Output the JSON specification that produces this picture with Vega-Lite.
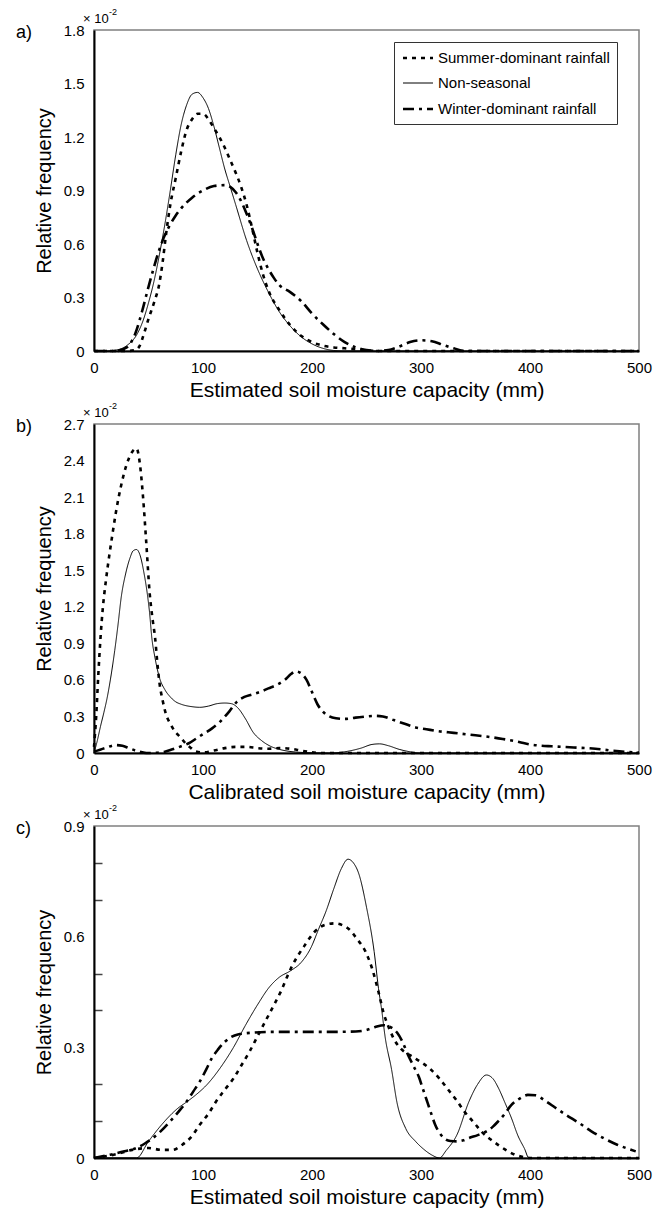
{
  "$schema": "https://vega.github.io/schema/vega-lite/v6.json",
  "background": "white",
  "padding": {"left": 15, "top": 7, "right": 5, "bottom": 5},
  "bounds": "flush",
  "spacing": 73,
  "datasets": {
    "a": [
      {"x":0,"f":0,"s":"Non-seasonal"},{"x":10,"f":0,"s":"Non-seasonal"},{"x":20,"f":0.005,"s":"Non-seasonal"},{"x":30,"f":0.03,"s":"Non-seasonal"},{"x":40,"f":0.1,"s":"Non-seasonal"},{"x":45,"f":0.17,"s":"Non-seasonal"},{"x":50,"f":0.27,"s":"Non-seasonal"},{"x":55,"f":0.39,"s":"Non-seasonal"},{"x":60,"f":0.54,"s":"Non-seasonal"},{"x":65,"f":0.71,"s":"Non-seasonal"},{"x":70,"f":0.9,"s":"Non-seasonal"},{"x":75,"f":1.1,"s":"Non-seasonal"},{"x":80,"f":1.27,"s":"Non-seasonal"},{"x":85,"f":1.38,"s":"Non-seasonal"},{"x":90,"f":1.44,"s":"Non-seasonal"},{"x":95,"f":1.45,"s":"Non-seasonal"},{"x":100,"f":1.42,"s":"Non-seasonal"},{"x":105,"f":1.36,"s":"Non-seasonal"},{"x":110,"f":1.26,"s":"Non-seasonal"},{"x":115,"f":1.14,"s":"Non-seasonal"},{"x":120,"f":1.02,"s":"Non-seasonal"},{"x":125,"f":0.92,"s":"Non-seasonal"},{"x":130,"f":0.82,"s":"Non-seasonal"},{"x":140,"f":0.62,"s":"Non-seasonal"},{"x":150,"f":0.46,"s":"Non-seasonal"},{"x":160,"f":0.33,"s":"Non-seasonal"},{"x":170,"f":0.22,"s":"Non-seasonal"},{"x":180,"f":0.14,"s":"Non-seasonal"},{"x":190,"f":0.08,"s":"Non-seasonal"},{"x":200,"f":0.04,"s":"Non-seasonal"},{"x":210,"f":0.015,"s":"Non-seasonal"},{"x":220,"f":0.003,"s":"Non-seasonal"},{"x":230,"f":0,"s":"Non-seasonal"},{"x":300,"f":0,"s":"Non-seasonal"},{"x":400,"f":0,"s":"Non-seasonal"},{"x":500,"f":0,"s":"Non-seasonal"},
      {"x":0,"f":0,"s":"Summer-dominant rainfall"},{"x":30,"f":0,"s":"Summer-dominant rainfall"},{"x":38,"f":0.005,"s":"Summer-dominant rainfall"},{"x":42,"f":0.03,"s":"Summer-dominant rainfall"},{"x":46,"f":0.1,"s":"Summer-dominant rainfall"},{"x":50,"f":0.18,"s":"Summer-dominant rainfall"},{"x":55,"f":0.27,"s":"Summer-dominant rainfall"},{"x":60,"f":0.38,"s":"Summer-dominant rainfall"},{"x":63,"f":0.5,"s":"Summer-dominant rainfall"},{"x":66,"f":0.65,"s":"Summer-dominant rainfall"},{"x":70,"f":0.82,"s":"Summer-dominant rainfall"},{"x":75,"f":0.97,"s":"Summer-dominant rainfall"},{"x":80,"f":1.12,"s":"Summer-dominant rainfall"},{"x":85,"f":1.24,"s":"Summer-dominant rainfall"},{"x":90,"f":1.3,"s":"Summer-dominant rainfall"},{"x":95,"f":1.33,"s":"Summer-dominant rainfall"},{"x":100,"f":1.33,"s":"Summer-dominant rainfall"},{"x":105,"f":1.3,"s":"Summer-dominant rainfall"},{"x":110,"f":1.25,"s":"Summer-dominant rainfall"},{"x":115,"f":1.2,"s":"Summer-dominant rainfall"},{"x":120,"f":1.14,"s":"Summer-dominant rainfall"},{"x":125,"f":1.07,"s":"Summer-dominant rainfall"},{"x":130,"f":1.0,"s":"Summer-dominant rainfall"},{"x":135,"f":0.92,"s":"Summer-dominant rainfall"},{"x":140,"f":0.82,"s":"Summer-dominant rainfall"},{"x":145,"f":0.69,"s":"Summer-dominant rainfall"},{"x":150,"f":0.55,"s":"Summer-dominant rainfall"},{"x":155,"f":0.43,"s":"Summer-dominant rainfall"},{"x":160,"f":0.34,"s":"Summer-dominant rainfall"},{"x":170,"f":0.23,"s":"Summer-dominant rainfall"},{"x":180,"f":0.145,"s":"Summer-dominant rainfall"},{"x":190,"f":0.085,"s":"Summer-dominant rainfall"},{"x":200,"f":0.05,"s":"Summer-dominant rainfall"},{"x":210,"f":0.03,"s":"Summer-dominant rainfall"},{"x":220,"f":0.02,"s":"Summer-dominant rainfall"},{"x":230,"f":0.015,"s":"Summer-dominant rainfall"},{"x":240,"f":0.01,"s":"Summer-dominant rainfall"},{"x":250,"f":0.005,"s":"Summer-dominant rainfall"},{"x":260,"f":0,"s":"Summer-dominant rainfall"},{"x":300,"f":0,"s":"Summer-dominant rainfall"},{"x":400,"f":0,"s":"Summer-dominant rainfall"},{"x":500,"f":0,"s":"Summer-dominant rainfall"},
      {"x":0,"f":0,"s":"Winter-dominant rainfall"},{"x":20,"f":0,"s":"Winter-dominant rainfall"},{"x":30,"f":0.02,"s":"Winter-dominant rainfall"},{"x":38,"f":0.1,"s":"Winter-dominant rainfall"},{"x":44,"f":0.22,"s":"Winter-dominant rainfall"},{"x":50,"f":0.36,"s":"Winter-dominant rainfall"},{"x":55,"f":0.47,"s":"Winter-dominant rainfall"},{"x":60,"f":0.57,"s":"Winter-dominant rainfall"},{"x":65,"f":0.65,"s":"Winter-dominant rainfall"},{"x":70,"f":0.71,"s":"Winter-dominant rainfall"},{"x":75,"f":0.76,"s":"Winter-dominant rainfall"},{"x":80,"f":0.8,"s":"Winter-dominant rainfall"},{"x":90,"f":0.86,"s":"Winter-dominant rainfall"},{"x":100,"f":0.9,"s":"Winter-dominant rainfall"},{"x":110,"f":0.925,"s":"Winter-dominant rainfall"},{"x":120,"f":0.93,"s":"Winter-dominant rainfall"},{"x":125,"f":0.92,"s":"Winter-dominant rainfall"},{"x":130,"f":0.89,"s":"Winter-dominant rainfall"},{"x":135,"f":0.84,"s":"Winter-dominant rainfall"},{"x":140,"f":0.77,"s":"Winter-dominant rainfall"},{"x":145,"f":0.69,"s":"Winter-dominant rainfall"},{"x":150,"f":0.6,"s":"Winter-dominant rainfall"},{"x":155,"f":0.52,"s":"Winter-dominant rainfall"},{"x":160,"f":0.46,"s":"Winter-dominant rainfall"},{"x":165,"f":0.41,"s":"Winter-dominant rainfall"},{"x":170,"f":0.37,"s":"Winter-dominant rainfall"},{"x":180,"f":0.33,"s":"Winter-dominant rainfall"},{"x":190,"f":0.28,"s":"Winter-dominant rainfall"},{"x":200,"f":0.21,"s":"Winter-dominant rainfall"},{"x":210,"f":0.15,"s":"Winter-dominant rainfall"},{"x":220,"f":0.095,"s":"Winter-dominant rainfall"},{"x":230,"f":0.05,"s":"Winter-dominant rainfall"},{"x":240,"f":0.02,"s":"Winter-dominant rainfall"},{"x":250,"f":0.005,"s":"Winter-dominant rainfall"},{"x":260,"f":0,"s":"Winter-dominant rainfall"},{"x":270,"f":0.005,"s":"Winter-dominant rainfall"},{"x":280,"f":0.025,"s":"Winter-dominant rainfall"},{"x":290,"f":0.05,"s":"Winter-dominant rainfall"},{"x":300,"f":0.06,"s":"Winter-dominant rainfall"},{"x":310,"f":0.055,"s":"Winter-dominant rainfall"},{"x":320,"f":0.035,"s":"Winter-dominant rainfall"},{"x":330,"f":0.015,"s":"Winter-dominant rainfall"},{"x":340,"f":0,"s":"Winter-dominant rainfall"},{"x":400,"f":0,"s":"Winter-dominant rainfall"},{"x":500,"f":0,"s":"Winter-dominant rainfall"}
    ],
    "b": [
      {"x":0,"f":0,"s":"Non-seasonal"},{"x":3,"f":0.1,"s":"Non-seasonal"},{"x":6,"f":0.22,"s":"Non-seasonal"},{"x":9,"f":0.33,"s":"Non-seasonal"},{"x":12,"f":0.45,"s":"Non-seasonal"},{"x":15,"f":0.6,"s":"Non-seasonal"},{"x":19,"f":0.84,"s":"Non-seasonal"},{"x":22,"f":1.05,"s":"Non-seasonal"},{"x":25,"f":1.28,"s":"Non-seasonal"},{"x":29,"f":1.47,"s":"Non-seasonal"},{"x":33,"f":1.6,"s":"Non-seasonal"},{"x":36,"f":1.66,"s":"Non-seasonal"},{"x":39,"f":1.67,"s":"Non-seasonal"},{"x":42,"f":1.63,"s":"Non-seasonal"},{"x":46,"f":1.47,"s":"Non-seasonal"},{"x":49,"f":1.3,"s":"Non-seasonal"},{"x":51,"f":1.15,"s":"Non-seasonal"},{"x":53,"f":0.95,"s":"Non-seasonal"},{"x":56,"f":0.78,"s":"Non-seasonal"},{"x":60,"f":0.62,"s":"Non-seasonal"},{"x":65,"f":0.52,"s":"Non-seasonal"},{"x":70,"f":0.46,"s":"Non-seasonal"},{"x":75,"f":0.42,"s":"Non-seasonal"},{"x":80,"f":0.4,"s":"Non-seasonal"},{"x":90,"f":0.38,"s":"Non-seasonal"},{"x":97,"f":0.375,"s":"Non-seasonal"},{"x":105,"f":0.385,"s":"Non-seasonal"},{"x":113,"f":0.405,"s":"Non-seasonal"},{"x":120,"f":0.41,"s":"Non-seasonal"},{"x":126,"f":0.405,"s":"Non-seasonal"},{"x":132,"f":0.37,"s":"Non-seasonal"},{"x":139,"f":0.28,"s":"Non-seasonal"},{"x":146,"f":0.17,"s":"Non-seasonal"},{"x":154,"f":0.1,"s":"Non-seasonal"},{"x":162,"f":0.055,"s":"Non-seasonal"},{"x":170,"f":0.03,"s":"Non-seasonal"},{"x":185,"f":0.008,"s":"Non-seasonal"},{"x":200,"f":0.002,"s":"Non-seasonal"},{"x":215,"f":0,"s":"Non-seasonal"},{"x":230,"f":0.01,"s":"Non-seasonal"},{"x":245,"f":0.04,"s":"Non-seasonal"},{"x":255,"f":0.07,"s":"Non-seasonal"},{"x":262,"f":0.075,"s":"Non-seasonal"},{"x":270,"f":0.06,"s":"Non-seasonal"},{"x":280,"f":0.03,"s":"Non-seasonal"},{"x":290,"f":0.01,"s":"Non-seasonal"},{"x":300,"f":0,"s":"Non-seasonal"},{"x":400,"f":0,"s":"Non-seasonal"},{"x":500,"f":0,"s":"Non-seasonal"},
      {"x":0,"f":0.05,"s":"Summer-dominant rainfall"},{"x":2,"f":0.3,"s":"Summer-dominant rainfall"},{"x":4,"f":0.65,"s":"Summer-dominant rainfall"},{"x":6,"f":0.95,"s":"Summer-dominant rainfall"},{"x":8,"f":1.18,"s":"Summer-dominant rainfall"},{"x":11,"f":1.42,"s":"Summer-dominant rainfall"},{"x":14,"f":1.62,"s":"Summer-dominant rainfall"},{"x":17,"f":1.8,"s":"Summer-dominant rainfall"},{"x":20,"f":1.97,"s":"Summer-dominant rainfall"},{"x":25,"f":2.2,"s":"Summer-dominant rainfall"},{"x":30,"f":2.37,"s":"Summer-dominant rainfall"},{"x":35,"f":2.47,"s":"Summer-dominant rainfall"},{"x":39,"f":2.5,"s":"Summer-dominant rainfall"},{"x":42,"f":2.38,"s":"Summer-dominant rainfall"},{"x":45,"f":2.1,"s":"Summer-dominant rainfall"},{"x":48,"f":1.72,"s":"Summer-dominant rainfall"},{"x":51,"f":1.32,"s":"Summer-dominant rainfall"},{"x":54,"f":1.08,"s":"Summer-dominant rainfall"},{"x":56,"f":0.95,"s":"Summer-dominant rainfall"},{"x":58,"f":0.75,"s":"Summer-dominant rainfall"},{"x":60,"f":0.58,"s":"Summer-dominant rainfall"},{"x":63,"f":0.43,"s":"Summer-dominant rainfall"},{"x":66,"f":0.32,"s":"Summer-dominant rainfall"},{"x":70,"f":0.24,"s":"Summer-dominant rainfall"},{"x":74,"f":0.18,"s":"Summer-dominant rainfall"},{"x":77,"f":0.15,"s":"Summer-dominant rainfall"},{"x":81,"f":0.11,"s":"Summer-dominant rainfall"},{"x":85,"f":0.07,"s":"Summer-dominant rainfall"},{"x":89,"f":0.04,"s":"Summer-dominant rainfall"},{"x":93,"f":0.014,"s":"Summer-dominant rainfall"},{"x":100,"f":0.005,"s":"Summer-dominant rainfall"},{"x":110,"f":0.02,"s":"Summer-dominant rainfall"},{"x":120,"f":0.04,"s":"Summer-dominant rainfall"},{"x":130,"f":0.05,"s":"Summer-dominant rainfall"},{"x":140,"f":0.05,"s":"Summer-dominant rainfall"},{"x":150,"f":0.04,"s":"Summer-dominant rainfall"},{"x":160,"f":0.035,"s":"Summer-dominant rainfall"},{"x":170,"f":0.04,"s":"Summer-dominant rainfall"},{"x":180,"f":0.035,"s":"Summer-dominant rainfall"},{"x":190,"f":0.02,"s":"Summer-dominant rainfall"},{"x":200,"f":0.005,"s":"Summer-dominant rainfall"},{"x":210,"f":0,"s":"Summer-dominant rainfall"},{"x":300,"f":0,"s":"Summer-dominant rainfall"},{"x":400,"f":0,"s":"Summer-dominant rainfall"},{"x":500,"f":0,"s":"Summer-dominant rainfall"},
      {"x":0,"f":0.01,"s":"Winter-dominant rainfall"},{"x":10,"f":0.04,"s":"Winter-dominant rainfall"},{"x":20,"f":0.065,"s":"Winter-dominant rainfall"},{"x":26,"f":0.06,"s":"Winter-dominant rainfall"},{"x":32,"f":0.04,"s":"Winter-dominant rainfall"},{"x":40,"f":0.015,"s":"Winter-dominant rainfall"},{"x":48,"f":0,"s":"Winter-dominant rainfall"},{"x":58,"f":0.002,"s":"Winter-dominant rainfall"},{"x":65,"f":0.01,"s":"Winter-dominant rainfall"},{"x":72,"f":0.03,"s":"Winter-dominant rainfall"},{"x":80,"f":0.055,"s":"Winter-dominant rainfall"},{"x":87,"f":0.08,"s":"Winter-dominant rainfall"},{"x":94,"f":0.12,"s":"Winter-dominant rainfall"},{"x":100,"f":0.155,"s":"Winter-dominant rainfall"},{"x":108,"f":0.2,"s":"Winter-dominant rainfall"},{"x":116,"f":0.26,"s":"Winter-dominant rainfall"},{"x":124,"f":0.34,"s":"Winter-dominant rainfall"},{"x":131,"f":0.42,"s":"Winter-dominant rainfall"},{"x":138,"f":0.46,"s":"Winter-dominant rainfall"},{"x":145,"f":0.48,"s":"Winter-dominant rainfall"},{"x":152,"f":0.5,"s":"Winter-dominant rainfall"},{"x":160,"f":0.53,"s":"Winter-dominant rainfall"},{"x":168,"f":0.56,"s":"Winter-dominant rainfall"},{"x":175,"f":0.6,"s":"Winter-dominant rainfall"},{"x":181,"f":0.65,"s":"Winter-dominant rainfall"},{"x":185,"f":0.67,"s":"Winter-dominant rainfall"},{"x":189,"f":0.66,"s":"Winter-dominant rainfall"},{"x":195,"f":0.6,"s":"Winter-dominant rainfall"},{"x":200,"f":0.5,"s":"Winter-dominant rainfall"},{"x":205,"f":0.4,"s":"Winter-dominant rainfall"},{"x":210,"f":0.34,"s":"Winter-dominant rainfall"},{"x":216,"f":0.3,"s":"Winter-dominant rainfall"},{"x":222,"f":0.285,"s":"Winter-dominant rainfall"},{"x":230,"f":0.28,"s":"Winter-dominant rainfall"},{"x":240,"f":0.29,"s":"Winter-dominant rainfall"},{"x":250,"f":0.3,"s":"Winter-dominant rainfall"},{"x":258,"f":0.305,"s":"Winter-dominant rainfall"},{"x":265,"f":0.3,"s":"Winter-dominant rainfall"},{"x":275,"f":0.27,"s":"Winter-dominant rainfall"},{"x":285,"f":0.24,"s":"Winter-dominant rainfall"},{"x":295,"f":0.21,"s":"Winter-dominant rainfall"},{"x":305,"f":0.195,"s":"Winter-dominant rainfall"},{"x":315,"f":0.18,"s":"Winter-dominant rainfall"},{"x":330,"f":0.165,"s":"Winter-dominant rainfall"},{"x":345,"f":0.15,"s":"Winter-dominant rainfall"},{"x":360,"f":0.135,"s":"Winter-dominant rainfall"},{"x":375,"f":0.115,"s":"Winter-dominant rainfall"},{"x":390,"f":0.09,"s":"Winter-dominant rainfall"},{"x":400,"f":0.07,"s":"Winter-dominant rainfall"},{"x":410,"f":0.06,"s":"Winter-dominant rainfall"},{"x":420,"f":0.055,"s":"Winter-dominant rainfall"},{"x":440,"f":0.045,"s":"Winter-dominant rainfall"},{"x":460,"f":0.035,"s":"Winter-dominant rainfall"},{"x":475,"f":0.02,"s":"Winter-dominant rainfall"},{"x":490,"f":0.008,"s":"Winter-dominant rainfall"},{"x":500,"f":0.003,"s":"Winter-dominant rainfall"}
    ],
    "c": [
      {"x":0,"f":0,"s":"Non-seasonal"},{"x":39,"f":0,"s":"Non-seasonal"},{"x":50,"f":0.045,"s":"Non-seasonal"},{"x":62,"f":0.09,"s":"Non-seasonal"},{"x":77,"f":0.135,"s":"Non-seasonal"},{"x":85,"f":0.152,"s":"Non-seasonal"},{"x":93,"f":0.17,"s":"Non-seasonal"},{"x":104,"f":0.2,"s":"Non-seasonal"},{"x":116,"f":0.245,"s":"Non-seasonal"},{"x":128,"f":0.3,"s":"Non-seasonal"},{"x":139,"f":0.36,"s":"Non-seasonal"},{"x":151,"f":0.42,"s":"Non-seasonal"},{"x":160,"f":0.46,"s":"Non-seasonal"},{"x":170,"f":0.49,"s":"Non-seasonal"},{"x":180,"f":0.507,"s":"Non-seasonal"},{"x":190,"f":0.53,"s":"Non-seasonal"},{"x":199,"f":0.57,"s":"Non-seasonal"},{"x":206,"f":0.62,"s":"Non-seasonal"},{"x":213,"f":0.67,"s":"Non-seasonal"},{"x":220,"f":0.73,"s":"Non-seasonal"},{"x":227,"f":0.785,"s":"Non-seasonal"},{"x":233,"f":0.81,"s":"Non-seasonal"},{"x":238,"f":0.8,"s":"Non-seasonal"},{"x":243,"f":0.77,"s":"Non-seasonal"},{"x":250,"f":0.68,"s":"Non-seasonal"},{"x":257,"f":0.56,"s":"Non-seasonal"},{"x":261,"f":0.46,"s":"Non-seasonal"},{"x":264,"f":0.4,"s":"Non-seasonal"},{"x":267,"f":0.33,"s":"Non-seasonal"},{"x":273,"f":0.24,"s":"Non-seasonal"},{"x":278,"f":0.15,"s":"Non-seasonal"},{"x":286,"f":0.08,"s":"Non-seasonal"},{"x":295,"f":0.045,"s":"Non-seasonal"},{"x":302,"f":0.025,"s":"Non-seasonal"},{"x":310,"f":0.008,"s":"Non-seasonal"},{"x":317,"f":0,"s":"Non-seasonal"},{"x":323,"f":0.02,"s":"Non-seasonal"},{"x":333,"f":0.063,"s":"Non-seasonal"},{"x":344,"f":0.153,"s":"Non-seasonal"},{"x":352,"f":0.2,"s":"Non-seasonal"},{"x":360,"f":0.225,"s":"Non-seasonal"},{"x":366,"f":0.215,"s":"Non-seasonal"},{"x":371,"f":0.19,"s":"Non-seasonal"},{"x":377,"f":0.15,"s":"Non-seasonal"},{"x":383,"f":0.108,"s":"Non-seasonal"},{"x":389,"f":0.06,"s":"Non-seasonal"},{"x":395,"f":0.025,"s":"Non-seasonal"},{"x":399,"f":0,"s":"Non-seasonal"},{"x":450,"f":0,"s":"Non-seasonal"},{"x":500,"f":0,"s":"Non-seasonal"},
      {"x":0,"f":0,"s":"Summer-dominant rainfall"},{"x":20,"f":0.01,"s":"Summer-dominant rainfall"},{"x":35,"f":0.022,"s":"Summer-dominant rainfall"},{"x":50,"f":0.027,"s":"Summer-dominant rainfall"},{"x":62,"f":0.022,"s":"Summer-dominant rainfall"},{"x":72,"f":0.022,"s":"Summer-dominant rainfall"},{"x":81,"f":0.036,"s":"Summer-dominant rainfall"},{"x":90,"f":0.06,"s":"Summer-dominant rainfall"},{"x":97,"f":0.09,"s":"Summer-dominant rainfall"},{"x":105,"f":0.12,"s":"Summer-dominant rainfall"},{"x":112,"f":0.153,"s":"Summer-dominant rainfall"},{"x":120,"f":0.185,"s":"Summer-dominant rainfall"},{"x":128,"f":0.216,"s":"Summer-dominant rainfall"},{"x":135,"f":0.25,"s":"Summer-dominant rainfall"},{"x":143,"f":0.29,"s":"Summer-dominant rainfall"},{"x":150,"f":0.33,"s":"Summer-dominant rainfall"},{"x":158,"f":0.375,"s":"Summer-dominant rainfall"},{"x":166,"f":0.42,"s":"Summer-dominant rainfall"},{"x":172,"f":0.455,"s":"Summer-dominant rainfall"},{"x":177,"f":0.49,"s":"Summer-dominant rainfall"},{"x":182,"f":0.522,"s":"Summer-dominant rainfall"},{"x":187,"f":0.548,"s":"Summer-dominant rainfall"},{"x":193,"f":0.575,"s":"Summer-dominant rainfall"},{"x":202,"f":0.612,"s":"Summer-dominant rainfall"},{"x":212,"f":0.632,"s":"Summer-dominant rainfall"},{"x":221,"f":0.636,"s":"Summer-dominant rainfall"},{"x":228,"f":0.631,"s":"Summer-dominant rainfall"},{"x":234,"f":0.62,"s":"Summer-dominant rainfall"},{"x":241,"f":0.595,"s":"Summer-dominant rainfall"},{"x":249,"f":0.56,"s":"Summer-dominant rainfall"},{"x":255,"f":0.515,"s":"Summer-dominant rainfall"},{"x":261,"f":0.45,"s":"Summer-dominant rainfall"},{"x":266,"f":0.39,"s":"Summer-dominant rainfall"},{"x":271,"f":0.35,"s":"Summer-dominant rainfall"},{"x":276,"f":0.318,"s":"Summer-dominant rainfall"},{"x":282,"f":0.295,"s":"Summer-dominant rainfall"},{"x":292,"f":0.275,"s":"Summer-dominant rainfall"},{"x":300,"f":0.26,"s":"Summer-dominant rainfall"},{"x":309,"f":0.24,"s":"Summer-dominant rainfall"},{"x":317,"f":0.215,"s":"Summer-dominant rainfall"},{"x":325,"f":0.185,"s":"Summer-dominant rainfall"},{"x":333,"f":0.155,"s":"Summer-dominant rainfall"},{"x":340,"f":0.125,"s":"Summer-dominant rainfall"},{"x":348,"f":0.098,"s":"Summer-dominant rainfall"},{"x":356,"f":0.07,"s":"Summer-dominant rainfall"},{"x":364,"f":0.05,"s":"Summer-dominant rainfall"},{"x":371,"f":0.035,"s":"Summer-dominant rainfall"},{"x":380,"f":0.018,"s":"Summer-dominant rainfall"},{"x":387,"f":0.008,"s":"Summer-dominant rainfall"},{"x":395,"f":0.002,"s":"Summer-dominant rainfall"},{"x":400,"f":0,"s":"Summer-dominant rainfall"},{"x":450,"f":0,"s":"Summer-dominant rainfall"},{"x":500,"f":0,"s":"Summer-dominant rainfall"},
      {"x":0,"f":0,"s":"Winter-dominant rainfall"},{"x":15,"f":0.009,"s":"Winter-dominant rainfall"},{"x":28,"f":0.018,"s":"Winter-dominant rainfall"},{"x":39,"f":0.027,"s":"Winter-dominant rainfall"},{"x":47,"f":0.04,"s":"Winter-dominant rainfall"},{"x":54,"f":0.054,"s":"Winter-dominant rainfall"},{"x":62,"f":0.075,"s":"Winter-dominant rainfall"},{"x":70,"f":0.1,"s":"Winter-dominant rainfall"},{"x":78,"f":0.127,"s":"Winter-dominant rainfall"},{"x":85,"f":0.153,"s":"Winter-dominant rainfall"},{"x":91,"f":0.18,"s":"Winter-dominant rainfall"},{"x":97,"f":0.207,"s":"Winter-dominant rainfall"},{"x":103,"f":0.24,"s":"Winter-dominant rainfall"},{"x":108,"f":0.27,"s":"Winter-dominant rainfall"},{"x":114,"f":0.295,"s":"Winter-dominant rainfall"},{"x":120,"f":0.315,"s":"Winter-dominant rainfall"},{"x":126,"f":0.328,"s":"Winter-dominant rainfall"},{"x":132,"f":0.335,"s":"Winter-dominant rainfall"},{"x":147,"f":0.34,"s":"Winter-dominant rainfall"},{"x":166,"f":0.342,"s":"Winter-dominant rainfall"},{"x":185,"f":0.342,"s":"Winter-dominant rainfall"},{"x":205,"f":0.342,"s":"Winter-dominant rainfall"},{"x":225,"f":0.342,"s":"Winter-dominant rainfall"},{"x":240,"f":0.343,"s":"Winter-dominant rainfall"},{"x":250,"f":0.347,"s":"Winter-dominant rainfall"},{"x":258,"f":0.355,"s":"Winter-dominant rainfall"},{"x":266,"f":0.36,"s":"Winter-dominant rainfall"},{"x":272,"f":0.355,"s":"Winter-dominant rainfall"},{"x":278,"f":0.34,"s":"Winter-dominant rainfall"},{"x":283,"f":0.315,"s":"Winter-dominant rainfall"},{"x":288,"f":0.28,"s":"Winter-dominant rainfall"},{"x":293,"f":0.25,"s":"Winter-dominant rainfall"},{"x":298,"f":0.22,"s":"Winter-dominant rainfall"},{"x":302,"f":0.185,"s":"Winter-dominant rainfall"},{"x":306,"f":0.15,"s":"Winter-dominant rainfall"},{"x":310,"f":0.115,"s":"Winter-dominant rainfall"},{"x":313,"f":0.09,"s":"Winter-dominant rainfall"},{"x":317,"f":0.068,"s":"Winter-dominant rainfall"},{"x":321,"f":0.054,"s":"Winter-dominant rainfall"},{"x":327,"f":0.046,"s":"Winter-dominant rainfall"},{"x":333,"f":0.045,"s":"Winter-dominant rainfall"},{"x":339,"f":0.048,"s":"Winter-dominant rainfall"},{"x":344,"f":0.054,"s":"Winter-dominant rainfall"},{"x":352,"f":0.062,"s":"Winter-dominant rainfall"},{"x":360,"f":0.072,"s":"Winter-dominant rainfall"},{"x":366,"f":0.085,"s":"Winter-dominant rainfall"},{"x":371,"f":0.1,"s":"Winter-dominant rainfall"},{"x":377,"f":0.12,"s":"Winter-dominant rainfall"},{"x":383,"f":0.144,"s":"Winter-dominant rainfall"},{"x":390,"f":0.16,"s":"Winter-dominant rainfall"},{"x":398,"f":0.171,"s":"Winter-dominant rainfall"},{"x":405,"f":0.17,"s":"Winter-dominant rainfall"},{"x":414,"f":0.155,"s":"Winter-dominant rainfall"},{"x":423,"f":0.137,"s":"Winter-dominant rainfall"},{"x":433,"f":0.117,"s":"Winter-dominant rainfall"},{"x":445,"f":0.095,"s":"Winter-dominant rainfall"},{"x":456,"f":0.073,"s":"Winter-dominant rainfall"},{"x":468,"f":0.053,"s":"Winter-dominant rainfall"},{"x":480,"f":0.036,"s":"Winter-dominant rainfall"},{"x":490,"f":0.025,"s":"Winter-dominant rainfall"},{"x":497,"f":0.018,"s":"Winter-dominant rainfall"}
    ]
  },
  "vconcat": [
    {
      "width": 545, "height": 321,
      "layer": [
        {
          "data": {"name": "a"},
          "mark": {"type": "line", "interpolate": "monotone", "color": "black"},
          "encoding": {
            "x": {"field": "x", "type": "quantitative", "scale": {"domain": [0, 500], "nice": false}, "axis": {"values": [0,100,200,300,400,500], "title": "Estimated soil moisture capacity (mm)"}},
            "y": {"field": "f", "type": "quantitative", "scale": {"domain": [0, 1.8], "nice": false}, "axis": {"values": [0,0.3,0.6,0.9,1.2,1.5,1.8], "tickCount": 30, "labelExpr": "datum.value == 0 ? '0' : format(datum.value, '.1f')", "title": "Relative frequency"}},
            "strokeDash": {"field": "s", "type": "nominal", "scale": {"domain": ["Summer-dominant rainfall", "Non-seasonal", "Winter-dominant rainfall"], "range": [[4,5],[1,0],[11,5,3,5]]}, "legend": {"orient": "none", "legendX": 300, "legendY": 12, "encode": {"symbols": {"update": {"strokeWidth": {"value": 1}, "strokeDash": {"signal": "datum.value == 'Summer-dominant rainfall' ? [1.5,1.5] : datum.value == 'Winter-dominant rainfall' ? [5,2,1.5,2] : [1,0]"}}}}}},
            "strokeWidth": {"field": "s", "type": "nominal", "scale": {"type": "ordinal", "domain": ["Summer-dominant rainfall", "Non-seasonal", "Winter-dominant rainfall"], "range": [2.6, 1, 2.6]}, "legend": null}
          }
        },
        {"data": {"values": [{}]}, "mark": {"type": "text", "text": "a)", "fontSize": 18, "align": "left", "baseline": "alphabetic", "dx": -78, "dy": 8, "color": "black"}, "encoding": {"x": {"datum": 0, "type": "quantitative"}, "y": {"datum": 1.8, "type": "quantitative"}}},
        {"data": {"values": [{}]}, "mark": {"type": "text", "text": "× 10", "fontSize": 13, "align": "left", "baseline": "alphabetic", "dx": -11, "dy": -7, "color": "black"}, "encoding": {"x": {"datum": 0, "type": "quantitative"}, "y": {"datum": 1.8, "type": "quantitative"}}},
        {"data": {"values": [{}]}, "mark": {"type": "text", "text": "-2", "fontSize": 9, "align": "left", "baseline": "alphabetic", "dx": 15, "dy": -15, "color": "black"}, "encoding": {"x": {"datum": 0, "type": "quantitative"}, "y": {"datum": 1.8, "type": "quantitative"}}}
      ]
    },
    {
      "width": 545, "height": 329,
      "layer": [
        {
          "data": {"name": "b"},
          "mark": {"type": "line", "interpolate": "monotone", "color": "black"},
          "encoding": {
            "x": {"field": "x", "type": "quantitative", "scale": {"domain": [0, 500], "nice": false}, "axis": {"values": [0,100,200,300,400,500], "title": "Calibrated soil moisture capacity (mm)"}},
            "y": {"field": "f", "type": "quantitative", "scale": {"domain": [0, 2.7], "nice": false}, "axis": {"values": [0,0.3,0.6,0.9,1.2,1.5,1.8,2.1,2.4,2.7], "tickCount": 30, "labelExpr": "datum.value == 0 ? '0' : format(datum.value, '.1f')", "title": "Relative frequency"}},
            "strokeDash": {"field": "s", "type": "nominal", "scale": {"domain": ["Summer-dominant rainfall", "Non-seasonal", "Winter-dominant rainfall"], "range": [[4,5],[1,0],[11,5,3,5]]}, "legend": {"orient": "none", "legendX": 299, "legendY": 10, "encode": {"symbols": {"update": {"strokeWidth": {"value": 1}, "strokeDash": {"signal": "datum.value == 'Summer-dominant rainfall' ? [1.5,1.5] : datum.value == 'Winter-dominant rainfall' ? [5,2,1.5,2] : [1,0]"}}}}}},
            "strokeWidth": {"field": "s", "type": "nominal", "scale": {"type": "ordinal", "domain": ["Summer-dominant rainfall", "Non-seasonal", "Winter-dominant rainfall"], "range": [2.6, 1, 2.6]}, "legend": null}
          }
        },
        {"data": {"values": [{}]}, "mark": {"type": "text", "text": "b)", "fontSize": 18, "align": "left", "baseline": "alphabetic", "dx": -78, "dy": 8, "color": "black"}, "encoding": {"x": {"datum": 0, "type": "quantitative"}, "y": {"datum": 2.7, "type": "quantitative"}}},
        {"data": {"values": [{}]}, "mark": {"type": "text", "text": "× 10", "fontSize": 13, "align": "left", "baseline": "alphabetic", "dx": -11, "dy": -7, "color": "black"}, "encoding": {"x": {"datum": 0, "type": "quantitative"}, "y": {"datum": 2.7, "type": "quantitative"}}},
        {"data": {"values": [{}]}, "mark": {"type": "text", "text": "-2", "fontSize": 9, "align": "left", "baseline": "alphabetic", "dx": 15, "dy": -15, "color": "black"}, "encoding": {"x": {"datum": 0, "type": "quantitative"}, "y": {"datum": 2.7, "type": "quantitative"}}}
      ]
    },
    {
      "width": 545, "height": 332,
      "layer": [
        {
          "data": {"name": "c"},
          "mark": {"type": "line", "interpolate": "monotone", "color": "black"},
          "encoding": {
            "x": {"field": "x", "type": "quantitative", "scale": {"domain": [0, 500], "nice": false}, "axis": {"values": [0,100,200,300,400,500], "title": "Estimated soil moisture capacity (mm)"}},
            "y": {"field": "f", "type": "quantitative", "scale": {"domain": [0, 0.9], "nice": false}, "axis": {"values": [0,0.1,0.2,0.3,0.4,0.5,0.6,0.7,0.8,0.9], "tickCount": 30, "labelExpr": "round(datum.value*10) % 3 == 0 ? (datum.value == 0 ? '0' : format(datum.value, '.1f')) : ''", "title": "Relative frequency", "ticks": true, "tickSize": -8, "tickWidth": 1.5, "tickColor": "#444", "tickOpacity": {"condition": {"test": "round(datum.value*10) % 3 == 0", "value": 0}, "value": 1}, "labelPadding": 18}},
            "strokeDash": {"field": "s", "type": "nominal", "scale": {"domain": ["Summer-dominant rainfall", "Non-seasonal", "Winter-dominant rainfall"], "range": [[4,5],[1,0],[11,5,3,5]]}, "legend": {"orient": "none", "legendX": 305, "legendY": 8, "encode": {"symbols": {"update": {"strokeWidth": {"value": 1}, "strokeDash": {"signal": "datum.value == 'Summer-dominant rainfall' ? [1.5,1.5] : datum.value == 'Winter-dominant rainfall' ? [5,2,1.5,2] : [1,0]"}}}}}},
            "strokeWidth": {"field": "s", "type": "nominal", "scale": {"type": "ordinal", "domain": ["Summer-dominant rainfall", "Non-seasonal", "Winter-dominant rainfall"], "range": [2.6, 1, 2.6]}, "legend": null}
          }
        },
        {"data": {"values": [{}]}, "mark": {"type": "text", "text": "c)", "fontSize": 18, "align": "left", "baseline": "alphabetic", "dx": -78, "dy": 8, "color": "black"}, "encoding": {"x": {"datum": 0, "type": "quantitative"}, "y": {"datum": 0.9, "type": "quantitative"}}},
        {"data": {"values": [{}]}, "mark": {"type": "text", "text": "× 10", "fontSize": 13, "align": "left", "baseline": "alphabetic", "dx": -11, "dy": -7, "color": "black"}, "encoding": {"x": {"datum": 0, "type": "quantitative"}, "y": {"datum": 0.9, "type": "quantitative"}}},
        {"data": {"values": [{}]}, "mark": {"type": "text", "text": "-2", "fontSize": 9, "align": "left", "baseline": "alphabetic", "dx": 15, "dy": -15, "color": "black"}, "encoding": {"x": {"datum": 0, "type": "quantitative"}, "y": {"datum": 0.9, "type": "quantitative"}}}
      ]
    }
  ],
  "config": {
    "font": "Liberation Sans",
    "view": {"stroke": "#808080", "strokeWidth": 1.5},
    "axis": {"grid": false, "ticks": false, "domainColor": "black", "domainWidth": 2, "labelColor": "black", "labelFontSize": 15, "labelPadding": 9, "labelFlush": false, "labelOverlap": false, "titleColor": "black", "titleFontSize": 20, "titleFontWeight": "normal", "titlePadding": 5},
    "axisX": {"titleFontSize": 21, "titlePadding": 4},
    "axisY": {"labelPadding": 10, "titlePadding": 9},
    "legend": {"title": null, "strokeColor": "#333", "fillColor": "white", "padding": 7, "rowPadding": 9, "labelFontSize": 15, "labelColor": "black", "labelLimit": 300, "labelOffset": 11, "symbolType": "M-2,0H2", "symbolSize": 225, "symbolOffset": 8, "symbolStrokeWidth": 1, "symbolStrokeColor": "black", "symbolFillColor": "transparent", "symbolLimit": 10}
  }
}
